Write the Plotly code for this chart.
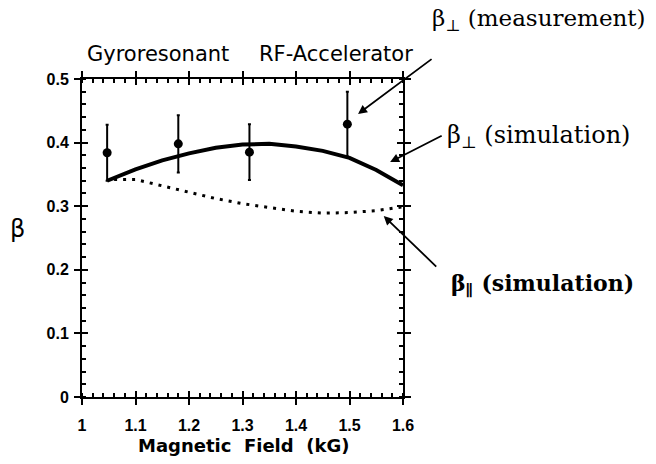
import plotly.graph_objects as go

# Measured beta_perp (points with error bars)
x_meas = [1.047, 1.180, 1.313, 1.496]
y_meas = [0.384, 0.398, 0.385, 0.429]
err_meas = [0.044, 0.045, 0.044, 0.051]

# Simulated beta_perp (solid curve)
x_perp = [1.047, 1.07, 1.10, 1.15, 1.20, 1.25, 1.30, 1.35, 1.40, 1.45, 1.50, 1.55, 1.60]
y_perp = [0.340, 0.348, 0.358, 0.372, 0.383, 0.392, 0.397, 0.398, 0.394, 0.387, 0.376, 0.357, 0.333]

# Simulated beta_parallel (dotted curve)
x_par = [1.06, 1.10, 1.15, 1.20, 1.25, 1.30, 1.35, 1.40, 1.45, 1.50, 1.55, 1.60]
y_par = [0.342, 0.342, 0.332, 0.322, 0.312, 0.304, 0.298, 0.292, 0.289, 0.290, 0.293, 0.299]

x_ticks = [1, 1.1, 1.2, 1.3, 1.4, 1.5, 1.6]
y_ticks = [0, 0.1, 0.2, 0.3, 0.4, 0.5]

fig = go.Figure()
fig.add_trace(go.Scatter(x=x_perp, y=y_perp, mode="lines",
                         line=dict(color="black", width=4), showlegend=False))
fig.add_trace(go.Scatter(x=x_par, y=y_par, mode="lines",
                         line=dict(color="black", width=3, dash="3px,6px"), showlegend=False))
fig.add_trace(go.Scatter(x=x_meas, y=y_meas, mode="markers",
                         marker=dict(color="black", size=9, symbol="circle"),
                         error_y=dict(type="data", array=err_meas, color="black",
                                      thickness=2, width=1.5),
                         showlegend=False))
# invisible trace on overlay axes for inside major ticks
fig.add_trace(go.Scatter(x=[1, 1.6], y=[0, 0.5], mode="markers", marker=dict(opacity=0),
                         xaxis="x2", yaxis="y2", showlegend=False, hoverinfo="skip"))

common = dict(showgrid=False, zeroline=False, showline=True, linecolor="black",
              linewidth=2, mirror="ticks", ticks="outside", ticklen=6, tickwidth=2,
              tickcolor="black", automargin=False, tickmode="linear", dtick=0.1)
minor = dict(ticks="inside", ticklen=4, tickwidth=1.5, dtick=0.02,
             tickcolor="black", showgrid=False)
fig.update_layout(
    width=656, height=464,
    margin=dict(l=82, r=253, t=79, b=67, autoexpand=False),
    paper_bgcolor="white", plot_bgcolor="white",
    xaxis=dict(range=[x_ticks[0], x_ticks[-1]], tick0=x_ticks[0],
               tickfont=dict(family="Liberation Sans", size=16, color="black", weight="bold"),
               ticklabelstandoff=7, minor=dict(minor, tick0=x_ticks[0]), **common),
    yaxis=dict(range=[y_ticks[0], y_ticks[-1]], tick0=y_ticks[0],
               tickfont=dict(family="Liberation Sans", size=16, color="black", weight="bold"),
               ticklabelstandoff=2, minor=dict(minor, tick0=y_ticks[0]), **common),
    xaxis2=dict(range=[1, 1.6], overlaying="x", tickvals=x_ticks, showticklabels=False,
                showgrid=False, zeroline=False, showline=False, mirror="ticks",
                ticks="inside", ticklen=6, tickwidth=2, tickcolor="black", automargin=False),
    yaxis2=dict(range=[0, 0.5], overlaying="y", tickvals=y_ticks, showticklabels=False,
                showgrid=False, zeroline=False, showline=False, mirror="ticks",
                ticks="inside", ticklen=6, tickwidth=2, tickcolor="black", automargin=False),
)

sans = dict(family="DejaVu Sans", size=21, color="black")
serif = dict(family="DejaVu Serif", color="black")
ann = [
    dict(text="Gyroresonant", x=0.237, y=1.079, xanchor="center", font=sans),
    dict(text="RF-Accelerator", x=0.791, y=1.079, xanchor="center", font=sans),
    dict(text="β<sub>⊥</sub> (measurement)", x=1.084, y=1.186, xanchor="left",
         font=dict(serif, size=23)),
    dict(text="β<sub>⊥</sub> (simulation)", x=1.131, y=0.818, xanchor="left",
         font=dict(serif, size=24)),
    dict(text="<b>β<sub>∥</sub> (simulation)</b>", x=1.143, y=0.352, xanchor="left",
         font=dict(serif, size=22)),
    dict(text="β", x=-0.202, y=0.528, xanchor="center",
         font=dict(family="DejaVu Sans", size=24, color="black")),
    dict(text="<b>Magnetic\u00a0 Field\u00a0 (kG)</b>", x=0.502, y=-0.154, xanchor="center",
         font=dict(family="DejaVu Sans", size=18, color="black")),
]
for a in ann:
    a.update(xref="paper", yref="paper", showarrow=False, yanchor="middle")
    fig.add_annotation(**a)

arrows = [
    dict(x=1.516, y=0.445, ax=75, ay=-56),
    dict(x=1.576, y=0.3695, ax=53, ay=-27),
    dict(x=1.564, y=0.2846, ax=54, ay=52),
]
for a in arrows:
    fig.add_annotation(text="", xref="x", yref="y", showarrow=True, arrowhead=2,
                       arrowsize=1, arrowwidth=1.8, arrowcolor="black", standoff=0, **a)

fig.write_html("out.html", config={"displayModeBar": False},
               post_script="document.body.style.margin='0';")
